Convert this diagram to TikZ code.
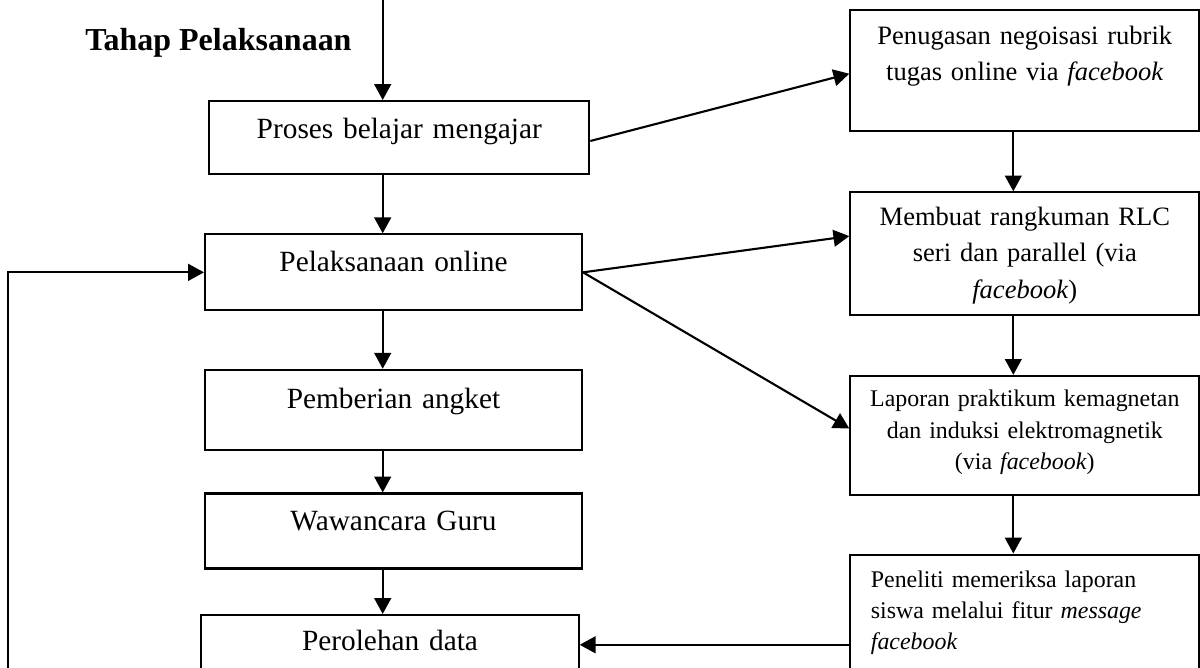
\documentclass[tikz,border=0pt]{standalone}
\usepackage{fontspec}
\setmainfont{Liberation Serif}
\usetikzlibrary{positioning,arrows.meta}

\begin{document}
\begin{tikzpicture}[x=0.02cm, y=-0.02cm, line width=1.2pt,
  box/.style={draw, inner sep=0pt, align=center},
  big/.style={font=\fontsize{16.7}{20}\selectfont},
  mid/.style={font=\fontsize{15.1}{20.8}\selectfont},
  sml/.style={font=\fontsize{13.6}{17.8}\selectfont},
  arr/.style={-{Triangle[length=9pt, width=9.5pt]}}]
\useasboundingbox (0,0) rectangle (1200,668);
\node[anchor=base west, inner sep=0pt, font=\fontsize{18.2}{22}\selectfont\bfseries] (judul) at (84.2,50.7) {Tahap Pelaksanaan};
\node[box, big, anchor=north west, text width=7.6cm, text height=0.74cm, text depth=0.726cm] (proses) at (208.3,100) {Proses belajar mengajar};
\node[box, big, anchor=north west, text width=7.54cm, text height=0.748cm, text depth=0.772cm] (online) at (204,233.3) {Pelaksanaan online};
\node[box, big, text width=7.54cm, text height=0.766cm, text depth=0.834cm, below=1.148cm of online] (angket) {Pemberian angket};
\node[box, big, text width=7.54cm, text height=0.734cm, text depth=0.766cm, below=0.832cm of angket] (guru) {Wawancara Guru};
\node[box, big, text width=7.546cm, text height=0.712cm, text depth=0.48cm, below=0.888cm of guru, xshift=-0.07cm] (data) {Perolehan data};
\node[box, mid, anchor=north west, text width=6.98cm, text height=0.68cm, text depth=1.734cm] (tugas) at (849.3,9.3) {Penugasan negoisasi rubrik\\tugas online via \textit{facebook}};
\node[box, mid, text width=6.98cm, text height=0.654cm, text depth=1.794cm, below=1.186cm of tugas] (rlc) {Membuat rangkuman RLC\\seri dan parallel (via\\\textit{facebook})};
\node[box, sml, text width=6.98cm, text height=0.62cm, text depth=1.766cm, below=1.18cm of rlc] (lapor) {Laporan praktikum kemagnetan\\dan induksi elektromagnetik\\(via \textit{facebook})};
\node[box, sml, align=left, inner xsep=0.41cm, text width=6.16cm, text height=0.654cm, text depth=1.73cm, below=1.146cm of lapor] (periksa) {Peneliti memeriksa laporan\\siswa melalui fitur \textit{message}\\\textit{facebook}};
\coordinate (kiri) at (382.7,0);
\coordinate (kanan) at (1013.3,0);
\coordinate (balik) at (8.3,668);
\draw[arr] (kiri) -- (kiri |- proses.north);
\draw[arr] (proses.south -| kiri) -- (online.north -| kiri);
\draw[arr] (online.south -| kiri) -- (angket.north -| kiri);
\draw[arr] (angket.south -| kiri) -- (guru.north -| kiri);
\draw[arr] (guru.south -| kiri) -- (data.north -| kiri);
\draw[arr] (tugas.south -| kanan) -- (rlc.north -| kanan);
\draw[arr] (rlc.south -| kanan) -- (lapor.north -| kanan);
\draw[arr] (lapor.south -| kanan) -- (periksa.north -| kanan);
\draw[arr] ([yshift=-0.066cm]proses.east) -- ([yshift=-0.06cm]tugas.west);
\draw[arr] (online.east) -- ([yshift=0.35cm]rlc.west);
\draw[arr] (online.east) -- ([yshift=0.14cm]lapor.west);
\draw[arr] (data.east -| periksa.west) -- (data.east);
\draw[arr] (balik) |- (online.west);
\end{tikzpicture}
\end{document}
